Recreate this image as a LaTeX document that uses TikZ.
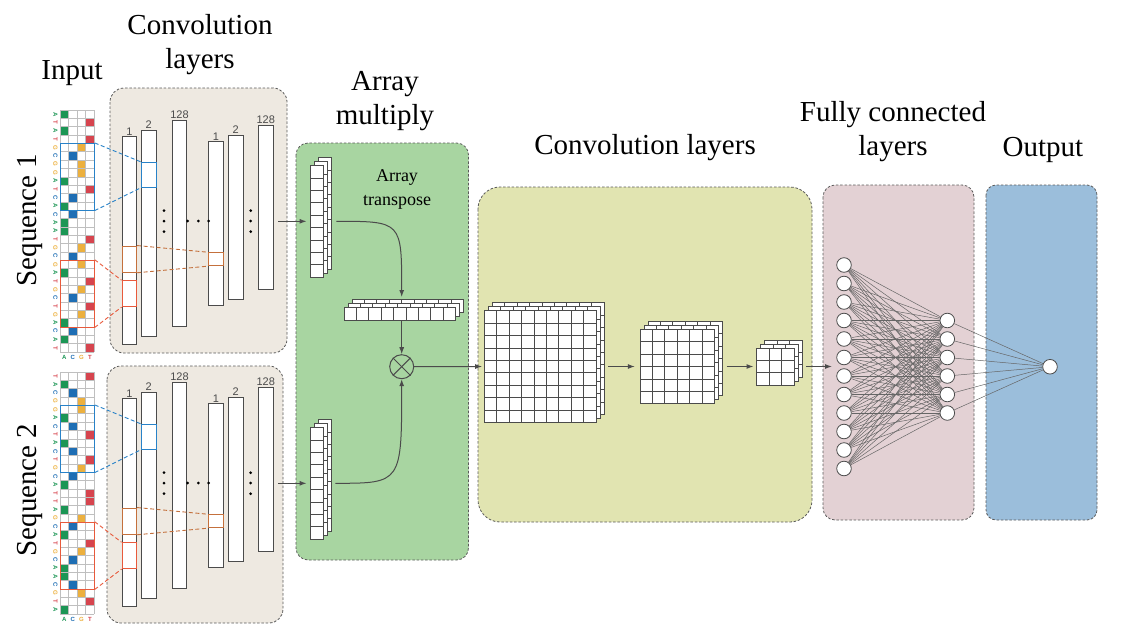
\documentclass[tikz,border=0pt]{standalone}
\usepackage{fontspec}
\setmainfont{Liberation Serif}
\newfontfamily\titlefont{Liberation Serif}
\newfontfamily\lblfont{Liberation Sans}
\usetikzlibrary{arrows.meta}

\definecolor{panelbeige}{RGB}{238,233,225}
\definecolor{panelgreen}{RGB}{168,213,161}
\definecolor{panelyellow}{RGB}{225,228,177}
\definecolor{panelpink}{RGB}{227,209,212}
\definecolor{panelblue}{RGB}{155,190,219}
\definecolor{edgegrey}{RGB}{90,90,90}
\definecolor{linegrey}{RGB}{75,75,75}
\definecolor{base1}{RGB}{28,150,85}
\definecolor{base2}{RGB}{30,110,180}
\definecolor{base3}{RGB}{236,176,62}
\definecolor{base4}{RGB}{214,68,78}
\definecolor{kblue}{RGB}{40,130,200}
\definecolor{kred}{RGB}{232,90,60}
\definecolor{korange}{RGB}{196,112,60}

\tikzset{
  panel/.style={draw=edgegrey, dash pattern=on 2.5pt off 1.8pt, line width=0.8pt},
  title/.style={font=\titlefont\fontsize{29}{34}\selectfont, align=center, inner sep=0pt},
  fmap/.style={draw=linegrey, fill=white, line width=0.9pt, inner sep=0pt, minimum width=14.7pt},
  kernel/.style={draw=#1, line width=0.9pt, inner sep=0pt, minimum width=14.7pt},
  klink/.style={draw=#1, dash pattern=on 4pt off 2.5pt, line width=0.9pt},
  gridline/.style={draw=black!25, line width=0.5pt},
  baselabel/.style={font=\lblfont\bfseries\fontsize{6}{6}\selectfont, inner sep=0pt},
  cell/.style={draw=linegrey, fill=white, line width=0.7pt},
  flow/.style={draw=linegrey, line width=1pt, -{Latex[length=7pt,width=5pt]}},
  neuron/.style={circle, draw=linegrey, fill=white, line width=0.8pt, minimum size=14.6pt, inner sep=0pt},
  synapse/.style={draw=linegrey!85, line width=0.5pt},
  collabel/.style={font=\lblfont\fontsize{11}{11}\selectfont, text=linegrey, inner sep=1pt, anchor=south},
}

% one sequence: one-hot grid, two convolution stacks, kernels
% #1 y offset, #2 name prefix, #3 base/column list
\newcommand{\seqpanel}[3]{%
  \foreach \b/\c [count=\r] in {#3}{
    \fill[base\c] ({60+(\c-1)*8.575},{#1+110+(\r-1)*8.345}) rectangle ++(8.575,8.345);
    \node[baselabel, text=base\c, rotate=-90] (#2b\r) at (55.5,{#1+110+(\r-0.5)*8.345}) {\b};
  }
  \foreach \r in {0,...,29} \draw[gridline] (60,{#1+110+\r*8.345}) -- (94.3,{#1+110+\r*8.345});
  \foreach \c in {0,...,4} \draw[gridline] ({60+\c*8.575},{#1+110}) -- ({60+\c*8.575},{#1+352});
  \foreach \l/\c [count=\i] in {A/1,C/2,G/3,T/4}
    \node[baselabel, text=base\c] (#2n\i) at ({60+(\c-0.5)*8.575},{#1+357.5}) {\l};
  % convolution columns
  \node[fmap, minimum height=207.3pt] (#2c1) at (129.35,{#1+240.3}) {};
  \node[fmap, minimum height=206.7pt] (#2c2) at (148.65,{#1+233.3}) {};
  \node[fmap, minimum height=206.7pt] (#2c3) at (179.5,{#1+223.3}) {};
  \node[fmap, minimum height=164pt] (#2d1) at (216,{#1+223.7}) {};
  \node[fmap, minimum height=164pt] (#2d2) at (235.65,{#1+217}) {};
  \node[fmap, minimum height=164pt] (#2d3) at (265.8,{#1+207.2}) {};
  \node[collabel] (#2lc1) at (#2c1.north) {1};
  \node[collabel] (#2lc2) at (#2c2.north) {2};
  \node[collabel] (#2lc3) at (#2c3.north) {128};
  \node[collabel] (#2ld1) at (#2d1.north) {1};
  \node[collabel] (#2ld2) at (#2d2.north) {2};
  \node[collabel] (#2ld3) at (#2d3.north) {128};
  % dots
  \foreach \y in {210.7,221,231.7}{
    \fill (164,{#1+\y}) circle (1.5);
    \fill (250.7,{#1+\y}) circle (1.5);
  }
  \foreach \x in {187.7,198.3,208.7} \fill (\x,{#1+221}) circle (1.5);
  % kernels
  \node[kernel=kblue, minimum width=34.3pt, minimum height=66.76pt] (#2gb) at (77.15,{#1+176.76}) {};
  \node[kernel=kred, minimum width=34.3pt, minimum height=66.76pt] (#2gr) at (77.15,{#1+293.59}) {};
  \node[kernel=kblue, minimum height=25pt] (#2kb) at (148.65,{#1+174.8}) {};
  \node[kernel=kred, minimum height=26pt] (#2kr) at (129.35,{#1+293.7}) {};
  \node[kernel=korange, minimum height=26.3pt] (#2ko) at (129.35,{#1+259.15}) {};
  \node[kernel=korange, minimum height=13pt] (#2kd) at (216,{#1+259.2}) {};
  \draw[klink=kblue] (#2gb.north east) -- (#2kb.north west);
  \draw[klink=kblue] (#2gb.south east) -- (#2kb.south west);
  \draw[klink=kred] (#2gr.north east) -- (#2kr.north west);
  \draw[klink=kred] (#2gr.south east) -- (#2kr.south west);
  \draw[klink=korange] (#2ko.north east) -- (#2kd.north west);
  \draw[klink=korange] (#2ko.south east) -- (#2kd.south west);
  \coordinate (#2out) at (278,{#1+221.3});
}

% three stacked feature maps, #1,#2 top left of the front one, #3 columns, #4 rows
\newcommand{\cellstack}[4]{%
  \foreach \k in {2,1,0}
    \foreach \i in {1,...,#3}
      \foreach \j in {1,...,#4}
        \draw[cell] ({#1+4*\k+(\i-1)*12.4},{#2-4*\k+(\j-1)*12.4}) rectangle ++(12.4,12.4);
}

\begin{document}
\begin{tikzpicture}[x=1pt,y=1pt,yscale=-1,xscale=1]
\useasboundingbox (0,0) rectangle (1122,629);

% panels
\draw[panel, fill=panelbeige, rounded corners=14pt] (110,88) rectangle (287,353);
\draw[panel, fill=panelbeige, rounded corners=14pt] (107,366) rectangle (283,623);
\draw[panel, fill=panelgreen, rounded corners=12pt] (296,143) rectangle (468.5,560);
\draw[panel, fill=panelyellow, rounded corners=22pt] (478,187) rectangle (812,522);
\draw[panel, fill=panelpink, rounded corners=12pt] (823,185) rectangle (974,520);
\draw[panel, fill=panelblue, rounded corners=10pt] (986,185) rectangle (1097,520);

% titles
\node[title] (tinput) at (72,73) {Input};
\node[title] (tconvA) at (200,45) {Convolution\\layers};
\node[title] (tarray) at (385,101) {Array\\multiply};
\node[title] (tconvB) at (645,148) {Convolution layers};
\node[title] (tfc) at (893,132) {Fully connected\\layers};
\node[title] (tout) at (1043,150) {Output};
\node[title, rotate=90] (tseqA) at (30,220) {Sequence 1};
\node[title, rotate=90] (tseqB) at (30,490) {Sequence 2};
\node[font=\titlefont\fontsize{18}{24}\selectfont, align=center, inner sep=0pt] (ttrans) at (397,189) {Array\\transpose};

% sequences
\seqpanel{0}{a}{A/1,T/4,A/1,T/4,G/3,C/2,G/3,G/3,A/1,T/4,C/2,A/1,C/2,A/1,A/1,T/4,G/3,C/2,G/3,A/1,T/4,G/3,C/2,T/4,G/3,A/1,C/2,A/1,T/4}
\seqpanel{262}{b}{T/4,A/1,C/2,G/3,G/3,A/1,C/2,T/4,A/1,C/2,T/4,G/3,C/2,A/1,T/4,T/4,A/1,G/3,C/2,A/1,T/4,G/3,C/2,A/1,A/1,C/2,G/3,T/4,A/1}

% array multiply
\cellstack{310.7}{165.5}{1}{9}
\cellstack{310.7}{427.5}{1}{9}
\cellstack{344}{307.6}{9}{1}
\node[inner sep=0pt, minimum width=12.4pt, minimum height=111.6pt] (vtop) at (316.9,221.3) {};
\node[inner sep=0pt, minimum width=12.4pt, minimum height=111.6pt] (vbot) at (316.9,483.3) {};
\node[inner sep=0pt, minimum width=111.6pt, minimum height=12.4pt] (hmid) at (399.8,313.8) {};
\node[circle, draw=linegrey, line width=1pt, minimum size=24pt, inner sep=0pt] (otimes) at (401.7,366.7) {};
\draw[linegrey, line width=1pt] (otimes.north west) -- (otimes.south east);
\draw[linegrey, line width=1pt] (otimes.north east) -- (otimes.south west);
\coordinate (hin) at (401.7,297);

\draw[flow, shorten >=4pt] (aout) -- (vtop.west);
\draw[flow, shorten >=4pt] (bout) -- (vbot.west);
\draw[flow, shorten <=13pt] (vtop.east) .. controls (401.7,221.3) .. (hin);
\draw[flow] (hmid.south -| otimes.north) -- (otimes.north);
\draw[flow, shorten <=12pt] (vbot.east) .. controls (401.7,483.3) .. (otimes.south);

% convolution layers
\cellstack{484.3}{310.7}{9}{9}
\cellstack{640}{329.3}{6}{6}
\cellstack{756.7}{347.9}{3}{3}
\node[inner sep=0pt, minimum size=111.6pt] (bigmap) at (540.1,366.5) {};
\node[inner sep=0pt, minimum size=74.4pt] (midmap) at (677.2,366.5) {};
\node[inner sep=0pt, minimum size=37.2pt] (smallmap) at (775.3,366.5) {};
\coordinate (fcin) at (832,366.5);

\draw[flow, shorten >=2pt] (otimes.east) -- (bigmap.west);
\draw[flow, shorten <=12pt, shorten >=5pt] (bigmap.east) -- (midmap.west);
\draw[flow, shorten <=12pt, shorten >=3pt] (midmap.east) -- (smallmap.west);
\draw[flow, shorten <=12pt] (smallmap.east) -- (fcin);

% fully connected layers
\foreach \i in {1,...,12} \node[neuron] (l\i) at (844,{265+(\i-1)*18.5}) {};
\foreach \j in {1,...,6} \node[neuron] (m\j) at (947.3,{320.5+(\j-1)*18.5}) {};
\node[neuron] (out) at (1050,366.75) {};
\foreach \i in {1,...,12} \foreach \j in {1,...,6} \draw[synapse] (l\i) -- (m\j);
\foreach \j in {1,...,6} \draw[synapse] (m\j) -- (out);
\end{tikzpicture}
\end{document}
